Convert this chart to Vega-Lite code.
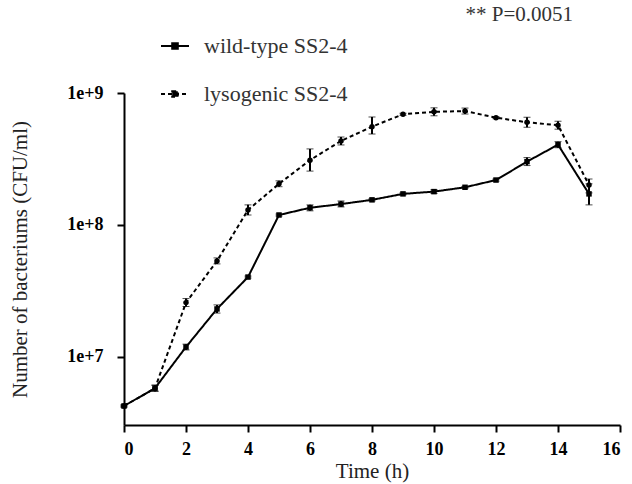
{
  "$schema": "https://vega.github.io/schema/vega-lite/v6.json",
  "width": 496,
  "height": 332,
  "autosize": "none",
  "padding": {"left": 124, "top": 93, "right": 12, "bottom": 59},
  "background": "white",
  "config": {
    "font": "Liberation Serif",
    "view": {"stroke": null},
    "axis": {"grid": false, "domainColor": "black", "domainWidth": 2, "tickColor": "black", "tickWidth": 2, "tickSize": 7, "labelColor": "black", "labelFont": "Liberation Serif", "labelFontWeight": "bold", "labelFontSize": 18, "titleFont": "Liberation Serif", "titleFontWeight": "normal", "titleFontSize": 21, "titleColor": "#222"}
  },
  "title": {"text": "** P=0.0051", "anchor": "end", "frame": "group", "dx": -47, "offset": 6, "fontSize": 21, "fontWeight": "normal", "font": "Liberation Serif", "color": "#333"},
  "data": {"values": [
    {"group": "wild-type SS2-4", "t": 0, "v": 4.25e6, "lo": 4.18e6, "hi": 4.32e6},
    {"group": "wild-type SS2-4", "t": 1, "v": 5.8e6, "lo": 5.5e6, "hi": 6.11e6},
    {"group": "wild-type SS2-4", "t": 2, "v": 1.19e7, "lo": 1.13e7, "hi": 1.25e7},
    {"group": "wild-type SS2-4", "t": 3, "v": 2.31e7, "lo": 2.15e7, "hi": 2.48e7},
    {"group": "wild-type SS2-4", "t": 4, "v": 4.03e7, "lo": 3.96e7, "hi": 4.1e7},
    {"group": "wild-type SS2-4", "t": 5, "v": 1.19e8, "lo": 1.17e8, "hi": 1.21e8},
    {"group": "wild-type SS2-4", "t": 6, "v": 1.35e8, "lo": 1.28e8, "hi": 1.42e8},
    {"group": "wild-type SS2-4", "t": 7, "v": 1.44e8, "lo": 1.37e8, "hi": 1.52e8},
    {"group": "wild-type SS2-4", "t": 8, "v": 1.55e8, "lo": 1.52e8, "hi": 1.58e8},
    {"group": "wild-type SS2-4", "t": 9, "v": 1.72e8, "lo": 1.69e8, "hi": 1.75e8},
    {"group": "wild-type SS2-4", "t": 10, "v": 1.79e8, "lo": 1.73e8, "hi": 1.85e8},
    {"group": "wild-type SS2-4", "t": 11, "v": 1.93e8, "lo": 1.9e8, "hi": 1.96e8},
    {"group": "wild-type SS2-4", "t": 12, "v": 2.19e8, "lo": 2.15e8, "hi": 2.23e8},
    {"group": "wild-type SS2-4", "t": 13, "v": 3.02e8, "lo": 2.82e8, "hi": 3.24e8},
    {"group": "wild-type SS2-4", "t": 14, "v": 4.06e8, "lo": 3.85e8, "hi": 4.28e8},
    {"group": "wild-type SS2-4", "t": 15, "v": 1.72e8, "lo": 1.42e8, "hi": 2.05e8},
    {"group": "lysogenic SS2-4", "t": 0, "v": 4.25e6, "lo": 4.18e6, "hi": 4.32e6},
    {"group": "lysogenic SS2-4", "t": 1, "v": 5.8e6, "lo": 5.5e6, "hi": 6.11e6},
    {"group": "lysogenic SS2-4", "t": 2, "v": 2.58e7, "lo": 2.41e7, "hi": 2.77e7},
    {"group": "lysogenic SS2-4", "t": 3, "v": 5.34e7, "lo": 5.07e7, "hi": 5.63e7},
    {"group": "lysogenic SS2-4", "t": 4, "v": 1.3e8, "lo": 1.19e8, "hi": 1.42e8},
    {"group": "lysogenic SS2-4", "t": 5, "v": 2.05e8, "lo": 1.95e8, "hi": 2.16e8},
    {"group": "lysogenic SS2-4", "t": 6, "v": 3.1e8, "lo": 2.56e8, "hi": 3.77e8},
    {"group": "lysogenic SS2-4", "t": 7, "v": 4.33e8, "lo": 4.04e8, "hi": 4.64e8},
    {"group": "lysogenic SS2-4", "t": 8, "v": 5.56e8, "lo": 4.89e8, "hi": 6.58e8},
    {"group": "lysogenic SS2-4", "t": 9, "v": 6.9e8, "lo": 6.78e8, "hi": 7.02e8},
    {"group": "lysogenic SS2-4", "t": 10, "v": 7.2e8, "lo": 6.72e8, "hi": 7.72e8},
    {"group": "lysogenic SS2-4", "t": 11, "v": 7.3e8, "lo": 6.93e8, "hi": 7.69e8},
    {"group": "lysogenic SS2-4", "t": 12, "v": 6.5e8, "lo": 6.39e8, "hi": 6.61e8},
    {"group": "lysogenic SS2-4", "t": 13, "v": 6.0e8, "lo": 5.5e8, "hi": 6.55e8},
    {"group": "lysogenic SS2-4", "t": 14, "v": 5.7e8, "lo": 5.32e8, "hi": 6.11e8},
    {"group": "lysogenic SS2-4", "t": 15, "v": 2.01e8, "lo": 1.75e8, "hi": 2.23e8}
  ]},
  "encoding": {
    "x": {"field": "t", "type": "quantitative", "scale": {"domain": [0, 16], "nice": false, "zero": false},
      "axis": {"values": [0, 2, 4, 6, 8, 10, 12, 14, 16], "title": "Time (h)", "labelPadding": 8, "titlePadding": 2}}
  },
  "layer": [
    {
      "mark": {"type": "errorbar", "ticks": {"size": 7, "color": "black", "strokeWidth": 2}, "rule": {"color": "black", "strokeWidth": 2}},
      "encoding": {
        "y": {"field": "lo", "type": "quantitative", "scale": {"type": "log", "domain": [3.05e6, 1e9], "nice": false},
          "axis": {"values": [1e7, 1e8, 1e9], "format": ".0e", "title": "Number of bacteriums (CFU/ml)", "labelPadding": 14, "titlePadding": 36}},
        "y2": {"field": "hi"}
      }
    },
    {
      "mark": {"type": "line", "color": "black", "strokeWidth": 2},
      "encoding": {
        "y": {"field": "v", "type": "quantitative"},
        "strokeDash": {"field": "group", "type": "nominal",
          "scale": {"domain": ["wild-type SS2-4", "lysogenic SS2-4"], "range": [[1, 0], [4, 3]]},
          "legend": {"title": null, "orient": "none", "legendX": 36, "legendY": -62, "symbolType": "M-1,0H1M-0.2,-0.2H0.2V0.2H-0.2Z", "symbolSize": 784, "symbolStrokeWidth": 2, "symbolStrokeColor": "black", "symbolFillColor": "black", "labelFontSize": 22, "labelFont": "Liberation Serif", "labelColor": "#333", "rowPadding": 22, "labelOffset": 14, "padding": 0}}
      }
    },
    {
      "mark": {"type": "point", "filled": true, "color": "black", "opacity": 1, "size": 30},
      "encoding": {
        "y": {"field": "v", "type": "quantitative"},
        "shape": {"field": "group", "type": "nominal", "sort": ["wild-type SS2-4", "lysogenic SS2-4"],
          "scale": {"range": ["square", "circle"]}, "legend": null}
      }
    }
  ]
}
